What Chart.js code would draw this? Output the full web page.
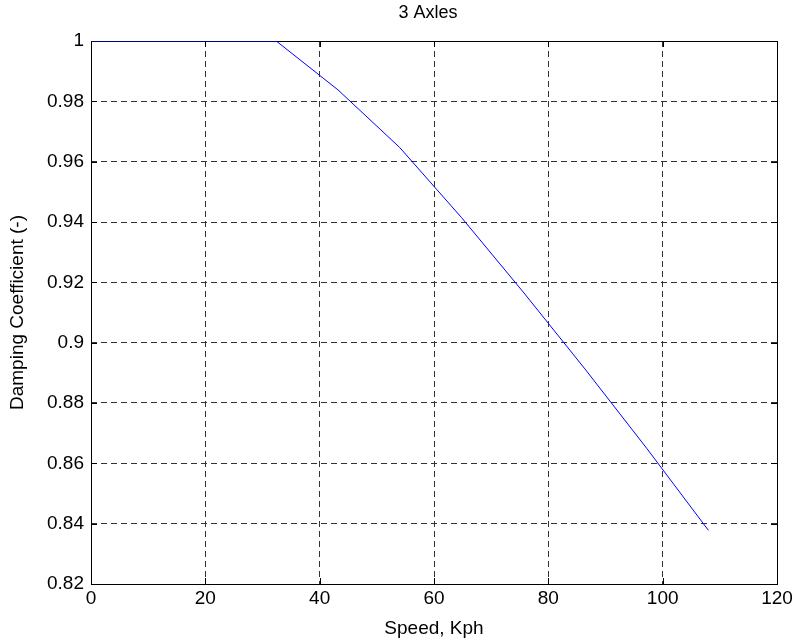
<!DOCTYPE html>
<html>
<head>
<meta charset="utf-8">
<script src="https://cdn.jsdelivr.net/npm/chart.js@4"></script>
<style>
  html, body { margin: 0; padding: 0; background: #fff; }
  #wrap { width: 799px; height: 643px; }
</style>
</head>
<body>
<div id="wrap"><canvas id="chart"></canvas></div>
<script>
// 速度 (Kph) 与阻尼系数
const speedKph = [0, 10.8, 21.6, 32.4, 43.2, 54, 64.8, 75.6, 86.4, 97.2, 108];
const dampingCoef = [1, 1, 1, 1, 0.9838, 0.9647, 0.9415, 0.9168, 0.8913, 0.8650, 0.8378];
const xTicks = [0, 20, 40, 60, 80, 100, 120];
const yTicks = [0.82, 0.84, 0.86, 0.88, 0.9, 0.92, 0.94, 0.96, 0.98, 1];
const chartTitle = '3 Axles';

const FONT = 'Liberation Sans, Arial, sans-serif';

// 外框和向内的刻度线，画在曲线下面
const boxPlugin = {
    id: 'box',
    beforeDatasetsDraw(chart) {
        const { ctx, chartArea: a, scales } = chart;
        ctx.save();
        ctx.strokeStyle = '#000';
        ctx.lineWidth = 1;
        ctx.strokeRect(a.left + 0.5, a.top + 0.5, a.right - a.left, a.bottom - a.top);
        ctx.beginPath();
        xTicks.forEach(v => {
            const x = Math.round(scales.x.getPixelForValue(v)) + 0.5;
            ctx.moveTo(x, a.bottom); ctx.lineTo(x, a.bottom - 6);
            ctx.moveTo(x, a.top); ctx.lineTo(x, a.top + 6);
        });
        yTicks.forEach(v => {
            const y = Math.round(scales.y.getPixelForValue(v)) + 0.5;
            ctx.moveTo(a.left, y); ctx.lineTo(a.left + 6, y);
            ctx.moveTo(a.right, y); ctx.lineTo(a.right - 6, y);
        });
        ctx.stroke();
        ctx.restore();
    },
    // 标题放在绘图区上方居中
    afterDraw(chart) {
        const { ctx, chartArea: a } = chart;
        ctx.save();
        ctx.fillStyle = '#000';
        ctx.font = '18px ' + FONT;
        ctx.textAlign = 'center';
        ctx.textBaseline = 'middle';
        ctx.fillText(chartTitle, (a.left + a.right) / 2 - 6, 13);
        ctx.restore();
    }
};

const ctx = document.getElementById('chart').getContext('2d');
new Chart(ctx, {
    type: 'line',
    data: {
        datasets: [{
            data: speedKph.map((s, i) => ({ x: s, y: dampingCoef[i] })),
            borderColor: '#0000ff',
            borderWidth: 1,
            pointRadius: 0,
            tension: 0,
            fill: false
        }]
    },
    options: {
        responsive: true,
        maintainAspectRatio: false,
        animation: false,
        layout: { padding: { left: 0, right: 22, top: 41, bottom: 0 } },
        scales: {
            x: {
                type: 'linear',
                min: 0,
                max: 120,
                afterBuildTicks: s => { s.ticks = xTicks.map(v => ({ value: v })); },
                afterFit: s => { s.height = 59; },
                grid: {
                    color: '#333',
                    lineWidth: 1,
                    drawTicks: false
                },
                border: { display: false, dash: [6, 4] },
                ticks: {
                    color: '#000',
                    padding: 3,
                    font: { family: FONT, size: 19 }
                },
                title: {
                    display: true,
                    text: 'Speed, Kph',
                    color: '#000',
                    padding: { top: 0, bottom: 3 },
                    font: { family: FONT, size: 19 }
                }
            },
            y: {
                type: 'linear',
                min: 0.82,
                max: 1,
                afterBuildTicks: s => { s.ticks = yTicks.map(v => ({ value: v })); },
                afterFit: s => { s.width = 91; },
                grid: {
                    color: '#333',
                    lineWidth: 1,
                    drawTicks: false
                },
                border: { display: false, dash: [6, 4] },
                ticks: {
                    color: '#000',
                    padding: 7,
                    font: { family: FONT, size: 19 },
                    callback: v => String(parseFloat(v.toFixed(2)))
                },
                title: {
                    display: true,
                    text: 'Damping Coefficient (-)',
                    color: '#000',
                    padding: { top: 6, bottom: 0 },
                    font: { family: FONT, size: 19 }
                }
            }
        },
        plugins: {
            legend: { display: false },
            tooltip: { enabled: false },
            title: { display: false }
        }
    },
    plugins: [boxPlugin]
});
</script>
</body>
</html>
